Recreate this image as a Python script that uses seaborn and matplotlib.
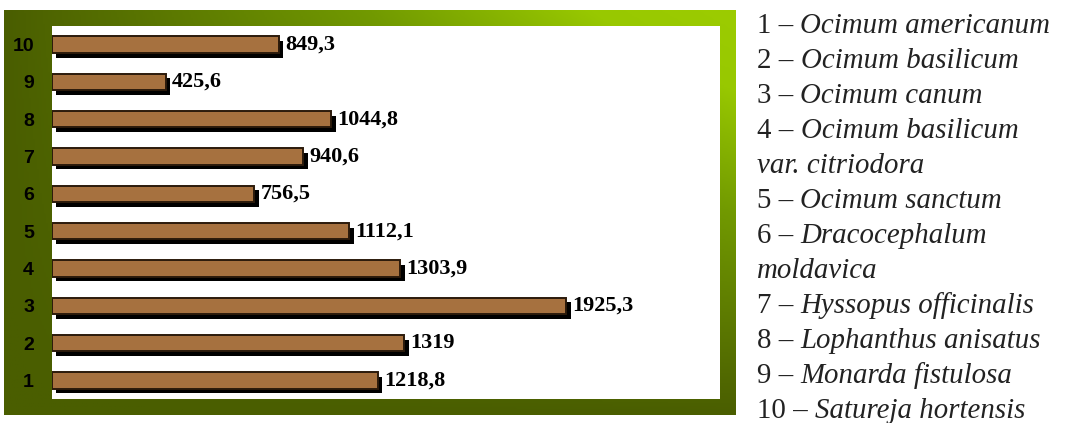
import numpy as np
import pandas as pd
import matplotlib
matplotlib.use("Agg")
import matplotlib.pyplot as plt
import matplotlib.patheffects as pe
from matplotlib.colors import LinearSegmentedColormap
from matplotlib.font_manager import FontProperties
import seaborn as sns

# ---- data ----
categories = ["10", "9", "8", "7", "6", "5", "4", "3", "2", "1"]
values = [849.3, 425.6, 1044.8, 940.6, 756.5, 1112.1, 1303.9, 1925.3, 1319, 1218.8]
value_labels = ["849,3", "425,6", "1044,8", "940,6", "756,5", "1112,1", "1303,9", "1925,3", "1319", "1218,8"]
legend_nums = ["1 – ", "2 – ", "3 – ", "4 – ", "", "5 – ", "6 – ", "", "7 – ", "8 – ", "9 – ", "10 – "]
legend_names = ["Ocimum americanum", "Ocimum basilicum", "Ocimum canum", "Ocimum basilicum",
                "var. citriodora", "Ocimum sanctum", "Dracocephalum", "moldavica",
                "Hyssopus officinalis", "Lophanthus anisatus", "Monarda fistulosa", "Satureja hortensis"]

sns.set_style("white")
W, H = 1065, 423
fig = plt.figure(figsize=(W / 100, H / 100), dpi=100)
fig.patch.set_facecolor("white")

def rect(x0, y0, x1, y1):
    return [x0 / W, 1 - y1 / H, (x1 - x0) / W, (y1 - y0) / H]

# green gradient frame
bg = fig.add_axes(rect(4, 10, 735, 415))
xn = np.linspace(0, 1, 400)[None, :]
yn = np.linspace(1, 0, 300)[:, None]
t = xn * yn
cmap = LinearSegmentedColormap.from_list(
    "g", [(0, "#4a5e00"), (0.5, "#729a00"), (0.8, "#98c800"), (1, "#9ccc00")])
bg.imshow(t, cmap=cmap, aspect="auto", extent=[0, 1, 0, 1], vmin=0, vmax=1)
bg.set_axis_off()

# main plot area
ax = fig.add_axes(rect(52, 26, 720, 399))
ax.set_facecolor("white")
df = pd.DataFrame({"cat": categories, "val": values})
sns.barplot(data=df, x="val", y="cat", order=categories, orient="h",
            color="#a6713f", width=0.44, edgecolor="#2b1a0b", linewidth=1.4,
            saturation=1, ax=ax)
for p in ax.patches:
    p.set_path_effects([pe.SimplePatchShadow(offset=(3.2, -3.4), shadow_rgbFace="black", alpha=1),
                        pe.Normal()])
ax.bar_label(ax.containers[0], labels=value_labels, padding=4.5,
             fontfamily="Liberation Serif", fontweight="bold", fontsize=16, color="black")
ax.set_xlim(0, 2500)
ax.set_ylim(9.5, -0.5)
ax.set_xlabel("")
ax.set_ylabel("")
ax.set_xticks([])
ax.set_yticks(range(len(categories)))
ax.set_yticklabels(categories)
ax.tick_params(axis="y", length=0, pad=13)
tick_fp = FontProperties(family="Liberation Sans", weight="bold", size=14)
for s in ax.spines.values():
    s.set_visible(False)
fig.canvas.draw()
for lbl in ax.get_yticklabels():
    lbl.set_fontproperties(tick_fp)
    lbl.set_color("black")

# legend text block
x0 = 757 / W
fs = 20.8
for i, (num, name) in enumerate(zip(legend_nums, legend_names)):
    yb = 1 - (33 + 35 * i) / H
    if num:
        tn = fig.text(x0, yb, num, fontfamily="Liberation Serif", fontsize=fs,
                      color="#222222", va="baseline", ha="left")
        fig.canvas.draw()
        bb = tn.get_window_extent()
        fig.text(bb.x1 / fig.bbox.width, yb, name, fontfamily="Liberation Serif", fontstyle="italic",
                 fontsize=fs, color="#222222", va="baseline", ha="left")
    else:
        fig.text(x0, yb, name, fontfamily="Liberation Serif", fontstyle="italic",
                 fontsize=fs, color="#222222", va="baseline", ha="left")

fig.savefig("out.png", dpi=100, facecolor="white")
